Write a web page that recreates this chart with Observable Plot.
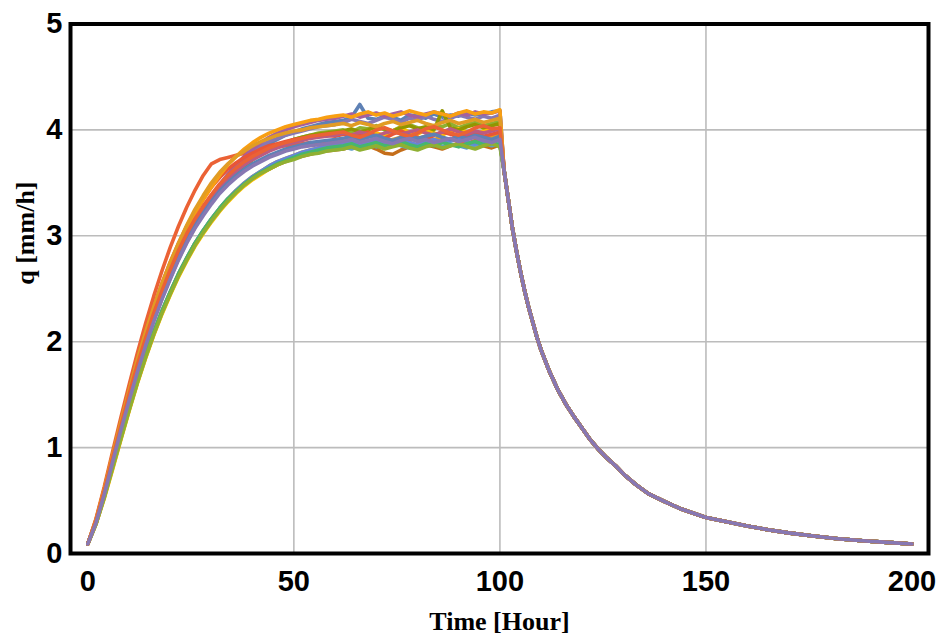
<!DOCTYPE html>
<html>
<head>
<meta charset="utf-8">
<script src="https://cdn.jsdelivr.net/npm/d3@7"></script>
<script src="https://cdn.jsdelivr.net/npm/@observablehq/plot@0.6"></script>
<style>
  html, body { margin: 0; padding: 0; background: #fff; }
  #chart { width: 940px; height: 642px; }
</style>
</head>
<body>
<div id="chart"></div>
<script>
// Time grid (hours) for the rising limb and plateau
const T = [0,2,4,6,8,10,12,14,16,18,20,22,24,26,28,30,32,34,36,38,40,42,44,46,48,50,52,54,56,58,60,62,64,66,68,70,72,74,76,78,80,82,84,86,88,90,92,94,96,98,100];
// Recession after rainfall stops (shared by all realizations)
const recT = [101,102,103,104,105,106,107,108,109,110,112,114,116,118,120,122,124,126,128,130,133,136,140,144,150,155,160,165,170,176,182,188,194,200];
const recQ = [3.62,3.35,3.08,2.86,2.66,2.48,2.32,2.18,2.04,1.92,1.72,1.55,1.41,1.29,1.18,1.07,0.98,0.90,0.83,0.75,0.65,0.565,0.49,0.42,0.34,0.30,0.26,0.225,0.195,0.165,0.14,0.12,0.105,0.09];

const xTicks = [0,50,100,150,200];
const yTicks = [0,1,2,3,4,5];

const colors = ["#5E81B5","#E19C24","#8FB032","#EB6235","#8778B3","#C56E1A","#5D9EC7","#FFBF00","#A5609D","#929600",
                "#E95536","#6685D9","#F89F13","#BC5B80","#47B66D","#5E81B5","#E19C24","#8FB032","#EB6235","#8778B3"];

const s01 = [0.09,0.30,0.58,0.88,1.18,1.47,1.75,2.00,2.23,2.44,2.63,2.81,2.97,3.11,3.24, 3.36,3.47,3.56,3.64,3.71,3.77,3.82,3.87,3.91,3.95,3.98,4.01,4.03,4.05,4.07,4.08, 4.09,4.12,4.24,4.11,4.10,4.13,4.12,4.09,4.14,4.13,4.11,4.15,4.12,4.14,4.13,4.16,4.14,4.15,4.17,4.18];
const s02 = [0.09,0.28,0.54,0.82,1.10,1.37,1.63,1.87,2.09,2.29,2.47,2.64,2.79,2.93,3.05, 3.16,3.26,3.35,3.43,3.50,3.56,3.61,3.66,3.70,3.73,3.76,3.79,3.81,3.83,3.85,3.86, 3.88,3.86,3.90,3.89,3.92,3.88,3.91,3.93,3.90,3.92,3.94,3.91,3.93,3.90,3.92,3.95,3.93,3.91,3.94,3.96];
const s03 = [0.09,0.30,0.57,0.87,1.16,1.45,1.73,1.98,2.21,2.42,2.61,2.79,2.95,3.09,3.21, 3.32,3.42,3.51,3.59,3.66,3.72,3.77,3.81,3.85,3.88,3.91,3.93,3.95,3.97,3.98,3.99, 4.00,3.98,4.02,4.01,4.04,4.00,3.99,4.03,4.05,4.02,4.00,4.04,4.03,4.06,4.02,4.05,4.07,4.04,4.06,4.08];
const s04 = [0.09,0.33,0.63,0.96,1.28,1.59,1.89,2.17,2.43,2.67,2.89,3.09,3.27,3.43,3.57, 3.68,3.72,3.74,3.76,3.78,3.80,3.81,3.83,3.84,3.85,3.86,3.87,3.88,3.86,3.89,3.87, 3.90,3.88,3.86,3.89,3.91,3.87,3.85,3.88,3.90,3.93,3.89,3.86,3.88,3.91,3.89,3.87,3.90,3.92,3.89,3.91];
const s05 = [0.09,0.31,0.58,0.89,1.19,1.48,1.76,2.01,2.24,2.45,2.64,2.82,2.98,3.12,3.25, 3.37,3.48,3.58,3.67,3.74,3.80,3.85,3.89,3.92,3.95,3.97,3.99,4.01,4.03,4.04,4.05, 4.07,4.10,4.08,4.06,4.09,4.12,4.10,4.07,4.11,4.09,4.13,4.10,4.08,4.11,4.14,4.12,4.10,4.13,4.11,4.14];
const s06 = [0.09,0.28,0.53,0.80,1.08,1.35,1.61,1.85,2.07,2.27,2.45,2.62,2.77,2.91,3.03, 3.14,3.24,3.33,3.41,3.48,3.54,3.59,3.63,3.67,3.70,3.73,3.75,3.77,3.79,3.80,3.81, 3.82,3.84,3.83,3.85,3.82,3.78,3.77,3.81,3.84,3.83,3.86,3.84,3.82,3.85,3.87,3.84,3.86,3.85,3.83,3.86];
const s07 = [0.09,0.29,0.54,0.81,1.09,1.36,1.62,1.86,2.08,2.28,2.46,2.63,2.78,2.92,3.04, 3.15,3.25,3.34,3.42,3.49,3.55,3.60,3.64,3.68,3.71,3.74,3.76,3.78,3.80,3.81,3.83, 3.84,3.82,3.85,3.87,3.84,3.86,3.88,3.85,3.83,3.86,3.88,3.86,3.84,3.87,3.85,3.83,3.86,3.88,3.85,3.87];
const s08 = [0.09,0.28,0.52,0.79,1.07,1.34,1.60,1.84,2.06,2.26,2.44,2.61,2.76,2.90,3.02, 3.13,3.23,3.32,3.40,3.47,3.53,3.58,3.63,3.67,3.71,3.74,3.77,3.80,3.83,3.85,3.87, 3.89,3.92,3.90,3.94,3.97,3.95,3.99,4.02,3.98,3.96,4.00,3.97,3.95,3.99,4.01,3.98,3.96,3.99,4.02,4.00];
const s09 = [0.09,0.30,0.57,0.88,1.18,1.47,1.75,2.00,2.23,2.44,2.63,2.81,2.97,3.12,3.25, 3.37,3.48,3.58,3.67,3.75,3.82,3.88,3.93,3.97,4.00,4.03,4.05,4.07,4.09,4.10,4.11, 4.13,4.15,4.12,4.14,4.16,4.13,4.15,4.17,4.14,4.12,4.15,4.17,4.15,4.13,4.16,4.14,4.17,4.15,4.16,4.18];
const s10 = [0.09,0.30,0.56,0.86,1.16,1.45,1.72,1.97,2.20,2.41,2.60,2.78,2.94,3.08,3.21, 3.32,3.42,3.51,3.59,3.66,3.72,3.77,3.81,3.85,3.88,3.91,3.93,3.95,3.96,3.97,3.98, 3.99,4.01,3.98,4.00,4.03,4.01,3.99,4.02,4.04,4.01,4.03,4.00,4.18,4.02,4.00,4.03,4.05,4.02,4.04,4.06];
const s11 = [0.09,0.32,0.61,0.93,1.24,1.54,1.83,2.09,2.33,2.55,2.75,2.93,3.09,3.23,3.35, 3.46,3.55,3.63,3.69,3.74,3.78,3.82,3.85,3.87,3.89,3.91,3.92,3.93,3.94,3.95,3.94, 3.96,3.93,3.95,3.98,3.94,3.92,3.96,3.99,3.95,3.93,3.91,3.95,3.98,3.96,3.93,3.95,3.97,3.94,3.96,3.98];
const s12 = [0.09,0.29,0.54,0.82,1.10,1.37,1.63,1.87,2.09,2.29,2.47,2.64,2.79,2.93,3.05, 3.16,3.26,3.35,3.43,3.50,3.56,3.61,3.66,3.70,3.73,3.76,3.79,3.81,3.83,3.85,3.86, 3.87,3.89,3.86,3.88,3.90,3.87,3.89,3.91,3.88,3.86,3.89,3.91,3.88,3.90,3.92,3.89,3.87,3.90,3.88,3.91];
const s13 = [0.09,0.31,0.60,0.91,1.22,1.52,1.80,2.06,2.30,2.52,2.72,2.90,3.06,3.21,3.34, 3.46,3.57,3.67,3.75,3.82,3.88,3.93,3.97,4.00,4.03,4.05,4.07,4.09,4.10,4.12,4.13, 4.14,4.12,4.15,4.17,4.14,4.16,4.13,4.15,4.18,4.16,4.14,4.17,4.15,4.13,4.16,4.18,4.15,4.17,4.16,4.19];
const s14 = [0.09,0.30,0.57,0.87,1.17,1.46,1.74,1.99,2.22,2.43,2.62,2.80,2.96,3.10,3.23, 3.34,3.44,3.53,3.61,3.67,3.72,3.76,3.80,3.83,3.86,3.88,3.90,3.92,3.93,3.94,3.95, 3.97,3.95,3.98,3.96,3.94,3.97,3.99,3.96,3.98,4.00,3.97,3.95,3.98,4.01,3.98,3.96,3.99,3.97,3.99,4.01];
const s15 = [0.09,0.29,0.54,0.82,1.10,1.37,1.63,1.87,2.09,2.29,2.47,2.64,2.79,2.93,3.05, 3.16,3.26,3.35,3.42,3.49,3.55,3.60,3.64,3.68,3.71,3.74,3.77,3.79,3.81,3.83,3.84, 3.85,3.87,3.84,3.86,3.88,3.85,3.87,3.89,3.86,3.84,3.87,3.85,3.88,3.86,3.84,3.87,3.89,3.86,3.88,3.86];
const s16 = [0.09,0.30,0.57,0.87,1.17,1.46,1.73,1.98,2.21,2.42,2.61,2.79,2.95,3.09,3.21, 3.32,3.42,3.50,3.57,3.63,3.68,3.72,3.76,3.79,3.82,3.84,3.86,3.88,3.89,3.90,3.91, 3.92,3.94,3.91,3.93,3.95,3.92,3.90,3.93,3.95,3.92,3.94,3.96,3.93,3.91,3.94,3.92,3.95,3.93,3.91,3.94];
const s17 = [0.09,0.32,0.61,0.93,1.24,1.54,1.83,2.09,2.33,2.55,2.75,2.93,3.10,3.25,3.38, 3.50,3.60,3.68,3.75,3.80,3.85,3.89,3.92,3.95,3.97,3.99,4.00,4.02,4.03,4.04,4.05, 4.06,4.04,4.07,4.05,4.03,4.06,4.08,4.05,4.07,4.09,4.06,4.04,4.07,4.09,4.06,4.08,4.10,4.07,4.09,4.11];
const s18 = [0.09,0.28,0.53,0.81,1.08,1.35,1.61,1.85,2.07,2.27,2.45,2.62,2.77,2.91,3.03, 3.14,3.24,3.33,3.41,3.48,3.54,3.59,3.63,3.67,3.70,3.72,3.75,3.77,3.78,3.80,3.81, 3.82,3.84,3.81,3.83,3.85,3.82,3.84,3.86,3.83,3.81,3.84,3.86,3.83,3.85,3.87,3.84,3.82,3.85,3.87,3.84];
const s19 = [0.09,0.31,0.59,0.90,1.20,1.50,1.78,2.03,2.27,2.48,2.68,2.86,3.02,3.16,3.28, 3.39,3.49,3.57,3.64,3.70,3.75,3.79,3.83,3.86,3.88,3.90,3.92,3.94,3.95,3.96,3.97, 3.98,3.95,3.93,3.96,4.00,4.02,3.99,3.96,3.94,3.97,4.01,4.03,4.00,3.97,3.95,3.98,4.02,4.04,4.01,4.02];
const s20 = [0.09,0.29,0.56,0.86,1.16,1.44,1.71,1.96,2.19,2.40,2.59,2.77,2.93,3.07,3.19, 3.30,3.40,3.48,3.55,3.61,3.66,3.70,3.74,3.77,3.80,3.82,3.84,3.85,3.86,3.87,3.88, 3.89,3.91,3.88,3.90,3.92,3.89,3.87,3.90,3.92,3.89,3.91,3.88,3.90,3.92,3.89,3.91,3.93,3.90,3.88,3.91];

const series = [s01,s02,s03,s04,s05,s06,s07,s08,s09,s10,s11,s12,s13,s14,s15,s16,s17,s18,s19,s20];

function rowsFor(vals) {
  return vals.map((q, j) => ({t: T[j], q}))
    .concat(recQ.map((q, j) => ({t: recT[j], q})));
}

const sans = "'Liberation Sans', Arial, Helvetica, sans-serif";
const serif = "'Liberation Serif', 'Times New Roman', serif";

const chart = Plot.plot({
  width: 940,
  height: 642,
  marginLeft: 70,
  marginRight: 12,
  marginTop: 23.5,
  marginBottom: 89,
  style: {background: "#fff", color: "#000", fontFamily: sans},
  x: {domain: [-4.2, 204]},
  y: {domain: [0, 5]},
  marks: [
    Plot.gridX([50, 100, 150], {stroke: "#bcbcbc", strokeOpacity: 1, strokeWidth: 1.6}),
    Plot.gridY([1, 2, 3, 4], {stroke: "#bcbcbc", strokeOpacity: 1, strokeWidth: 1.6}),
    ...series.map((vals, i) => Plot.line(rowsFor(vals), {
      x: "t", y: "q", stroke: colors[i], strokeWidth: 3.6, strokeLinejoin: "round", strokeLinecap: "round"
    })),
    Plot.frame({stroke: "#000", strokeWidth: 4}),
    Plot.axisX(xTicks, {tickSize: 0, tickPadding: 17, fontSize: 29, fontWeight: "bold", fontFamily: sans, label: null, tickFormat: d => String(d)}),
    Plot.axisY(yTicks, {tickSize: 0, tickPadding: 8, fontSize: 29, fontWeight: "bold", fontFamily: sans, label: null, tickFormat: d => String(d)}),
    Plot.text(["Time [Hour]"], {frameAnchor: "bottom", dy: 76, fontSize: 26, fontWeight: "bold", fontFamily: serif, fill: "#000"}),
    Plot.text(["q [mm/h]"], {frameAnchor: "left", dx: -45, dy: -4, rotate: -90, fontSize: 26, fontWeight: "bold", fontFamily: serif, fill: "#000"})
  ]
});
document.getElementById("chart").appendChild(chart);
</script>
</body>
</html>
